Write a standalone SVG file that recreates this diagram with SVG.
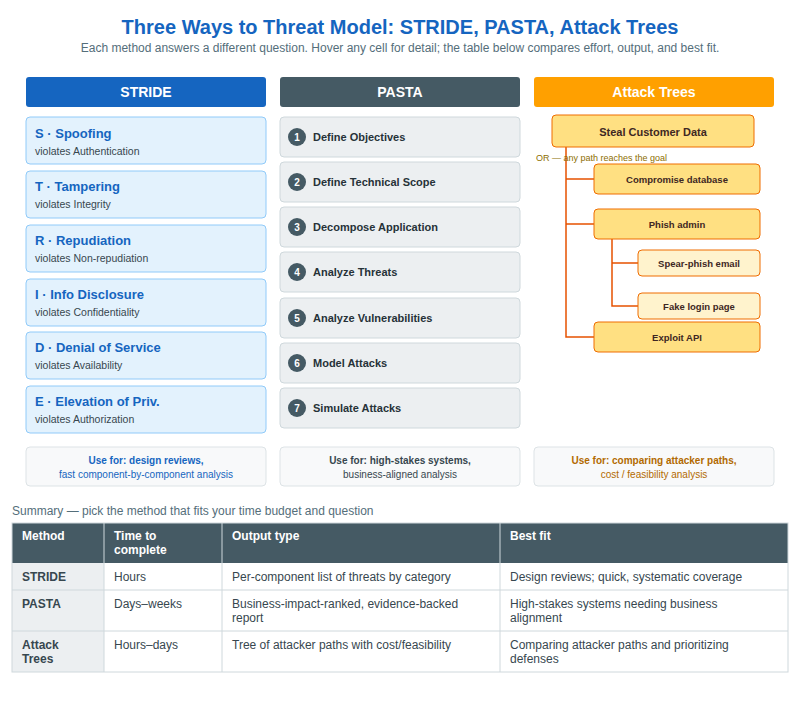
<svg xmlns="http://www.w3.org/2000/svg" width="800" height="702" viewBox="0 0 800 702">
<style>
text{font-family:"Liberation Sans",Arial,sans-serif}
.hd{font-size:14px;font-weight:bold;fill:#fff;text-anchor:middle}
.sc{fill:#e3f2fd;stroke:#90caf9;stroke-width:1}
.st{font-size:13px;font-weight:bold;fill:#1565c0}
.ss{font-size:10.5px;fill:#37474f}
.pc{fill:#eceff1;stroke:#cfd8dc;stroke-width:1}
.pt{font-size:11px;font-weight:bold;fill:#263238}
.pn{font-size:10px;font-weight:bold;fill:#fff;text-anchor:middle}
.an{fill:#ffe082;stroke:#ef6c00;stroke-width:1}
.al{fill:#fff3cd;stroke:#ef6c00;stroke-width:1}
.at{font-size:11px;font-weight:bold;fill:#3e2723;text-anchor:middle}
.as{font-size:9.5px;font-weight:bold;fill:#3e2723;text-anchor:middle}
.uf{fill:#f8f9fa;stroke:#dde3e6;stroke-width:1}
.ut{font-size:10px;text-anchor:middle}
.tc{font-size:12px;fill:#37474f}
.th{font-size:12px;font-weight:bold;fill:#fff}
.tb{font-size:12px;font-weight:bold;fill:#37474f}
.ln{stroke:#e65100;stroke-width:1.5;fill:none}
</style>
<rect width="800" height="702" fill="#fff"/>
<text x="400" y="34" text-anchor="middle" font-size="20" font-weight="bold" fill="#1565c0">Three Ways to Threat Model: STRIDE, PASTA, Attack Trees</text>
<text x="400" y="52" text-anchor="middle" font-size="12" fill="#546e7a">Each method answers a different question. Hover any cell for detail; the table below compares effort, output, and best fit.</text>

<g id="stride-header"><rect x="26" y="77" width="240" height="30" rx="3" fill="#1565c0"/><text class="hd" x="146" y="97">STRIDE</text></g>
<g id="pasta-header"><rect x="280" y="77" width="240" height="30" rx="3" fill="#455a64"/><text class="hd" x="400" y="97">PASTA</text></g>
<g id="at-header"><rect x="534" y="77" width="240" height="30" rx="3" fill="#ffa000"/><text class="hd" x="654" y="97">Attack Trees</text></g>

<g id="s1"><rect class="sc" x="26" y="117" width="240" height="47" rx="4"/><text class="st" x="35" y="138">S · Spoofing</text><text class="ss" x="35" y="155">violates Authentication</text></g>
<g id="s2"><rect class="sc" x="26" y="171" width="240" height="47" rx="4"/><text class="st" x="35" y="191">T · Tampering</text><text class="ss" x="35" y="208">violates Integrity</text></g>
<g id="s3"><rect class="sc" x="26" y="225" width="240" height="47" rx="4"/><text class="st" x="35" y="245">R · Repudiation</text><text class="ss" x="35" y="262">violates Non-repudiation</text></g>
<g id="s4"><rect class="sc" x="26" y="279" width="240" height="47" rx="4"/><text class="st" x="35" y="299">I · Info Disclosure</text><text class="ss" x="35" y="316">violates Confidentiality</text></g>
<g id="s5"><rect class="sc" x="26" y="332" width="240" height="47" rx="4"/><text class="st" x="35" y="352">D · Denial of Service</text><text class="ss" x="35" y="369">violates Availability</text></g>
<g id="s6"><rect class="sc" x="26" y="386" width="240" height="47" rx="4"/><text class="st" x="35" y="406">E · Elevation of Priv.</text><text class="ss" x="35" y="423">violates Authorization</text></g>

<g id="p1"><rect class="pc" x="280" y="117" width="240" height="40" rx="4"/><circle cx="297" cy="137" r="9" fill="#455a64"/><text class="pn" x="297" y="141">1</text><text class="pt" x="313" y="141">Define Objectives</text></g>
<g id="p2"><rect class="pc" x="280" y="162" width="240" height="40" rx="4"/><circle cx="297" cy="182" r="9" fill="#455a64"/><text class="pn" x="297" y="186">2</text><text class="pt" x="313" y="186">Define Technical Scope</text></g>
<g id="p3"><rect class="pc" x="280" y="207" width="240" height="40" rx="4"/><circle cx="297" cy="227" r="9" fill="#455a64"/><text class="pn" x="297" y="231">3</text><text class="pt" x="313" y="231">Decompose Application</text></g>
<g id="p4"><rect class="pc" x="280" y="252" width="240" height="40" rx="4"/><circle cx="297" cy="272" r="9" fill="#455a64"/><text class="pn" x="297" y="276">4</text><text class="pt" x="313" y="276">Analyze Threats</text></g>
<g id="p5"><rect class="pc" x="280" y="298" width="240" height="40" rx="4"/><circle cx="297" cy="318" r="9" fill="#455a64"/><text class="pn" x="297" y="322">5</text><text class="pt" x="313" y="322">Analyze Vulnerabilities</text></g>
<g id="p6"><rect class="pc" x="280" y="343" width="240" height="40" rx="4"/><circle cx="297" cy="363" r="9" fill="#455a64"/><text class="pn" x="297" y="367">6</text><text class="pt" x="313" y="367">Model Attacks</text></g>
<g id="p7"><rect class="pc" x="280" y="388" width="240" height="40" rx="4"/><circle cx="297" cy="408" r="9" fill="#455a64"/><text class="pn" x="297" y="412">7</text><text class="pt" x="313" y="412">Simulate Attacks</text></g>

<g id="connectors">
<path class="ln" d="M566 147V337H594M566 179H594M566 224H594"/>
<path class="ln" d="M612 239V306H638M612 263H638"/>
</g>
<text x="536" y="161" font-size="9" fill="#8d6e00">OR — any path reaches the goal</text>
<g id="a-root"><rect class="an" x="552" y="115" width="202" height="32" rx="4"/><text class="at" x="653" y="136">Steal Customer Data</text></g>
<g id="a-db"><rect class="an" x="594" y="164" width="166" height="30" rx="4"/><text class="as" x="677" y="183">Compromise database</text></g>
<g id="a-phish"><rect class="an" x="594" y="209" width="166" height="30" rx="4"/><text class="as" x="677" y="228">Phish admin</text></g>
<g id="a-spear"><rect class="al" x="638" y="250" width="122" height="26" rx="4"/><text class="as" x="699" y="267" font-size="9">Spear-phish email</text></g>
<g id="a-fake"><rect class="al" x="638" y="293" width="122" height="26" rx="4"/><text class="as" x="699" y="310" font-size="9">Fake login page</text></g>
<g id="a-api"><rect class="an" x="594" y="322" width="166" height="30" rx="4"/><text class="as" x="677" y="341">Exploit API</text></g>

<g id="u1"><rect class="uf" x="26" y="447" width="240" height="39" rx="4"/><text class="ut" x="146" y="464" fill="#1565c0" font-weight="bold">Use for: design reviews,</text><text class="ut" x="146" y="478" fill="#1565c0">fast component-by-component analysis</text></g>
<g id="u2"><rect class="uf" x="280" y="447" width="240" height="39" rx="4"/><text class="ut" x="400" y="464" fill="#37474f" font-weight="bold">Use for: high-stakes systems,</text><text class="ut" x="400" y="478" fill="#37474f">business-aligned analysis</text></g>
<g id="u3"><rect class="uf" x="534" y="447" width="240" height="39" rx="4"/><text class="ut" x="654" y="464" fill="#b26a00" font-weight="bold">Use for: comparing attacker paths,</text><text class="ut" x="654" y="478" fill="#b26a00">cost / feasibility analysis</text></g>

<text x="12" y="515" font-size="12" fill="#546e7a">Summary — pick the method that fits your time budget and question</text>
<g id="table">
<rect x="12" y="523" width="776" height="40" fill="#455a64"/>
<rect x="12" y="563" width="92" height="109" fill="#eceff1"/>
<g fill="none" stroke="#cfd8dc" stroke-width="1">
<rect x="12" y="523" width="776" height="149"/>
<path d="M12 590H788M12 631H788M104 523V672M222 523V672M500 523V672"/>
</g>
<text class="th" x="22" y="540">Method</text>
<text class="th" x="114" y="540">Time to</text><text class="th" x="114" y="554">complete</text>
<text class="th" x="232" y="540">Output type</text>
<text class="th" x="510" y="540">Best fit</text>
<text class="tb" x="22" y="581">STRIDE</text><text class="tc" x="114" y="581">Hours</text><text class="tc" x="232" y="581">Per-component list of threats by category</text><text class="tc" x="510" y="581">Design reviews; quick, systematic coverage</text>
<text class="tb" x="22" y="608">PASTA</text><text class="tc" x="114" y="608">Days–weeks</text><text class="tc" x="232" y="608">Business-impact-ranked, evidence-backed</text><text class="tc" x="232" y="622">report</text><text class="tc" x="510" y="608">High-stakes systems needing business</text><text class="tc" x="510" y="622">alignment</text>
<text class="tb" x="22" y="649">Attack</text><text class="tb" x="22" y="663">Trees</text><text class="tc" x="114" y="649">Hours–days</text><text class="tc" x="232" y="649">Tree of attacker paths with cost/feasibility</text><text class="tc" x="510" y="649">Comparing attacker paths and prioritizing</text><text class="tc" x="510" y="663">defenses</text>
</g>
</svg>
